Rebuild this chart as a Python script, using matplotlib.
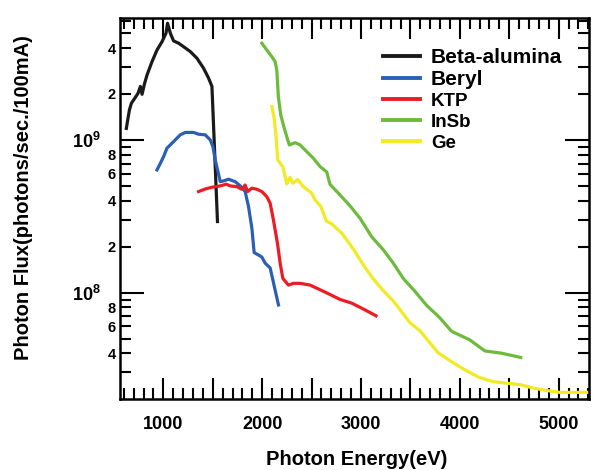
import matplotlib
matplotlib.use("Agg")
import matplotlib.pyplot as plt
from matplotlib.ticker import LogLocator, FuncFormatter, MultipleLocator

plt.rcParams['font.family'] = ['Liberation Sans', 'DejaVu Sans']
plt.rcParams['font.weight'] = 'bold'
plt.rcParams['mathtext.default'] = 'regular'

# photon energy (eV) and flux (photons/sec./100mA)
beta_e = [626, 643, 657, 677, 710, 744, 768, 785, 811, 835, 886, 936, 987, 1027,
          1043, 1071, 1104, 1155, 1205, 1273, 1340, 1407, 1458, 1492, 1548]
beta_f = [1.19e9, 1.39e9, 1.57e9, 1.74e9, 1.87e9, 2.02e9, 2.24e9, 1.99e9, 2.35e9,
          2.66e9, 3.26e9, 3.88e9, 4.40e9, 5.00e9, 5.81e9, 5.00e9, 4.45e9, 4.30e9,
          4.08e9, 3.79e9, 3.43e9, 2.95e9, 2.54e9, 2.24e9, 2.92e8]

beryl_e = [936, 970, 1003, 1037, 1104, 1172, 1222, 1306, 1357, 1424, 1475, 1502,
           1525, 1553, 1576, 1609, 1660, 1727, 1778, 1828, 1862, 1896, 1919, 1997,
           2030, 2081, 2165]
beryl_f = [6.36e8, 7.03e8, 7.78e8, 8.83e8, 9.75e8, 1.08e9, 1.12e9, 1.12e9, 1.09e9,
           1.08e9, 1.0e9, 9.04e8, 7.40e8, 6.20e8, 5.33e8, 5.39e8, 5.53e8, 5.33e8,
           5.00e8, 4.59e8, 3.66e8, 2.64e8, 1.83e8, 1.71e8, 1.56e8, 1.45e8, 8.3e7]

ktp_e = [1357, 1424, 1492, 1576, 1636, 1677, 1744, 1795, 1828, 1852, 1896, 1947,
         1997, 2047, 2081, 2114, 2155, 2182, 2209, 2266, 2316, 2384, 2485, 2653,
         2788, 2906, 3040, 3152]
ktp_f = [4.59e8, 4.77e8, 4.90e8, 5.00e8, 5.13e8, 5.00e8, 4.94e8, 4.75e8, 5.07e8,
         4.59e8, 4.83e8, 4.75e8, 4.59e8, 4.25e8, 3.85e8, 2.99e8, 2.10e8, 1.56e8,
         1.24e8, 1.12e8, 1.15e8, 1.15e8, 1.12e8, 9.96e7, 9.02e7, 8.53e7, 7.71e7, 7.05e7]

insb_e = [1997, 2047, 2098, 2131, 2148, 2164, 2188, 2215, 2249, 2275, 2333, 2384,
          2451, 2518, 2586, 2653, 2687, 2771, 2889, 2990, 3108, 3225, 3326, 3427,
          3545, 3664, 3798, 3916, 4101, 4253, 4421, 4616]
insb_f = [4.30e9, 3.88e9, 3.51e9, 3.26e9, 2.87e9, 1.92e9, 1.46e9, 1.25e9, 1.05e9,
          9.27e8, 9.60e8, 9.27e8, 8.38e8, 7.59e8, 6.69e8, 6.17e8, 5.11e8, 4.48e8,
          3.70e8, 3.07e8, 2.32e8, 1.91e8, 1.56e8, 1.24e8, 1.02e8, 8.25e7, 6.83e7,
          5.58e7, 4.90e7, 4.15e7, 4.01e7, 3.76e7]

ge_e = [2098, 2121, 2141, 2158, 2207, 2225, 2249, 2283, 2310, 2359, 2417, 2501,
        2535, 2594, 2650, 2704, 2808, 2922, 3023, 3124, 3225, 3326, 3495, 3596,
        3781, 3916, 4050, 4192, 4336, 4621, 4740, 4869, 5010, 5296]
ge_f = [1.65e9, 1.39e9, 1.05e9, 7.40e8, 6.69e8, 6.05e8, 5.15e8, 5.68e8, 5.20e8,
        5.50e8, 4.94e8, 4.48e8, 4.05e8, 3.66e8, 2.94e8, 2.82e8, 2.44e8, 1.93e8,
        1.52e8, 1.23e8, 1.03e8, 8.83e7, 6.36e7, 5.63e7, 4.03e7, 3.53e7, 3.12e7,
        2.79e7, 2.61e7, 2.49e7, 2.37e7, 2.29e7, 2.22e7, 2.22e7]

fig = plt.figure(figsize=(5.93, 4.70), dpi=100)
ax = fig.add_axes([0.2024, 0.1511, 0.7909, 0.8106])

lw = 2.3
ax.plot(beta_e, beta_f, color='#1a1a1a', lw=lw, label='Beta-alumina')
ax.plot(beryl_e, beryl_f, color='#2b5fb4', lw=lw, label='Beryl')
ax.plot(ktp_e, ktp_f, color='#ec1c24', lw=lw, label='KTP')
ax.plot(insb_e, insb_f, color='#6cbb3c', lw=lw, label='InSb')
ax.plot(ge_e, ge_f, color='#f2ea22', lw=lw, label='Ge')

ax.set_yscale('log')
ax.set_xlim(562, 5307)
ax.set_ylim(2.01e7, 6.29e9)

for s in ax.spines.values():
    s.set_linewidth(1.8)

ax.xaxis.set_major_locator(MultipleLocator(500))
ax.xaxis.set_minor_locator(MultipleLocator(100))
ax.xaxis.set_major_formatter(FuncFormatter(lambda v, p: f"{int(v)}" if v % 1000 == 0 else ""))

ax.yaxis.set_major_locator(LogLocator(base=10, numticks=10))
ax.yaxis.set_minor_locator(LogLocator(base=10, subs=range(2, 10), numticks=20))


def minor_fmt(v, p):
    if v > 5.5e9:
        return ""
    m = round(v / 10 ** int(f"{v:e}".split('e')[1]))
    return str(m) if m in (2, 4, 6, 8) else ""


ax.yaxis.set_minor_formatter(FuncFormatter(minor_fmt))

ax.tick_params(which='both', direction='in', top=True, right=True, width=1.5)
ax.tick_params(axis='x', which='major', length=15, labelsize=13, pad=12)
ax.tick_params(axis='x', which='minor', length=8)
ax.tick_params(axis='y', which='major', length=17, labelsize=13, pad=14)
ax.tick_params(axis='y', which='minor', length=8, labelsize=10.5, pad=3)
for t in ax.get_xticklabels() + ax.get_yticklabels(which='both'):
    t.set_fontweight('bold')

ax.set_xlabel("Photon Energy(eV)", fontsize=14.5, fontweight='bold')
ax.set_ylabel("Photon Flux(photons/sec./100mA)", fontsize=14.5, fontweight='bold')
ax.xaxis.set_label_coords(0.505, -0.135)
ax.yaxis.set_label_coords(-0.186, 0.528)

leg = ax.legend(loc='upper left', bbox_to_anchor=(0.561, 0.922), frameon=False,
                fontsize=14, handlelength=1.9, handletextpad=0.55,
                labelspacing=0.17, borderpad=0, borderaxespad=0)
for i, t in enumerate(leg.get_texts()):
    t.set_fontweight('bold')
    t.set_fontsize(15 if i < 2 else 13.5)
for h in leg.get_lines():
    h.set_linewidth(2.8)

fig.savefig("out.png", dpi=100)
